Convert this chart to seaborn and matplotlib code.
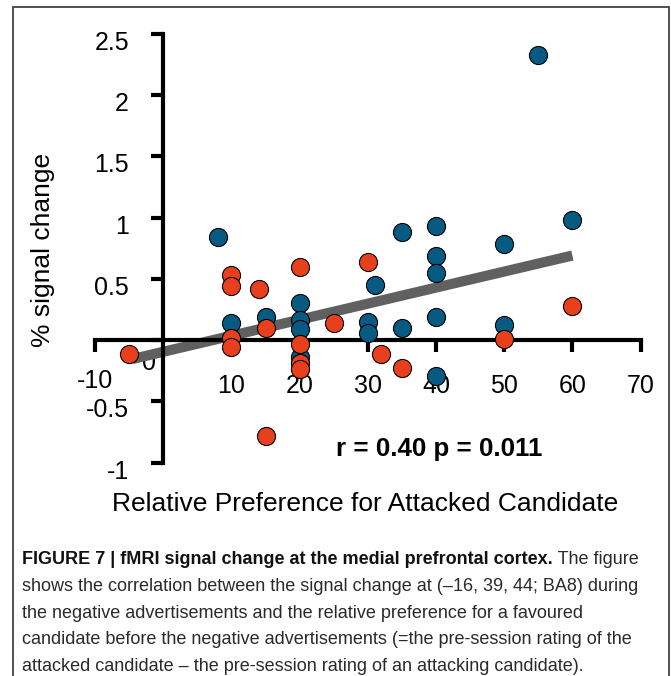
import matplotlib
matplotlib.use("Agg")
import matplotlib.pyplot as plt
import matplotlib.transforms as mtransforms
from matplotlib.patches import Rectangle
import seaborn as sns

# blue group
blue_x = [8, 10, 15, 20, 20, 20, 20, 30, 30, 31, 35, 35, 40, 40, 40, 40, 40, 50, 50, 55, 60]
blue_y = [0.84, 0.14, 0.19, 0.30, 0.16, 0.09, -0.14, 0.15, 0.06, 0.45, 0.885, 0.10,
          0.93, 0.69, 0.55, 0.19, -0.29, 0.78, 0.12, 2.33, 0.98]

# red group
red_x = [-5, 10, 10, 14, 20, 30, 60, 25, 15, 10, 10, 20, 20, 20, 32, 35, 50, 15]
red_y = [-0.115, 0.53, 0.44, 0.42, 0.60, 0.64, 0.28, 0.14, 0.10, 0.02, -0.06, -0.03,
         -0.19, -0.24, -0.115, -0.225, 0.01, -0.78]

# regression line end points
fit_x = [-4.5, 60]
fit_y = [-0.155, 0.69]

x_ticks = [-10, 10, 20, 30, 40, 50, 60, 70]
x_tick_labels = ["-10", "10", "20", "30", "40", "50", "60", "70"]
y_ticks = [-1, -0.5, 0, 0.5, 1, 1.5, 2, 2.5]
y_tick_labels = ["-1", "-0.5", "0", "0.5", "1", "1.5", "2", "2.5"]

stat_text = "r = 0.40 p = 0.011"
caption_bold = "FIGURE 7 | fMRI signal change at the medial prefrontal cortex."
caption_first_rest = " The figure"
caption_lines = [
    "shows the correlation between the signal change at (\u201316, 39, 44; BA8) during",
    "the negative advertisements and the relative preference for a favoured",
    "candidate before the negative advertisements (=the pre-session rating of the",
    "attacked candidate \u2013 the pre-session rating of an attacking candidate).",
]

sns.set_style("white")
plt.rcParams["font.family"] = ["Liberation Sans", "DejaVu Sans"]
plt.rcParams["text.color"] = "black"
plt.rcParams["axes.labelcolor"] = "black"
plt.rcParams["xtick.color"] = "black"
plt.rcParams["ytick.color"] = "black"

W, H = 671, 676
fig = plt.figure(figsize=(W / 100, H / 100), dpi=100)
ax = fig.add_axes([0.1416, 0.3158, 0.8131, 0.6342])
ax.set_facecolor("none")

blue = "#075a82"
red = "#e8401c"

sns.lineplot(x=fit_x, y=fit_y, color="#606060", linewidth=7.3, ax=ax, zorder=1.5,
             solid_capstyle="butt")
sns.scatterplot(x=blue_x, y=blue_y, color=blue, s=170, edgecolor="black",
                linewidth=0.8, zorder=3, clip_on=False, ax=ax)
sns.scatterplot(x=red_x, y=red_y, color=red, s=170, edgecolor="black",
                linewidth=0.8, zorder=3, clip_on=False, ax=ax)

ax.set_xlim(-10, 70)
ax.set_ylim(-1, 2.5)
for side in ["top", "right"]:
    ax.spines[side].set_visible(False)
ax.spines["left"].set_position(("data", 0))
ax.spines["bottom"].set_position(("data", 0))
for side in ["left", "bottom"]:
    ax.spines[side].set_linewidth(3)
    ax.spines[side].set_color("black")

ax.set_xticks(x_ticks)
ax.set_xticklabels(x_tick_labels)
ax.set_yticks(y_ticks)
ax.set_yticklabels(y_tick_labels)
ax.tick_params(axis="both", direction="out", length=8.6, width=3, color="black",
               labelcolor="black", labelsize=18, pad=16, bottom=True, left=True)

# nudge tick labels to where the original has them
for lab in ax.get_yticklabels():
    if lab.get_text() == "0":
        off = mtransforms.ScaledTranslation(0.27, -0.20, fig.dpi_scale_trans)
    else:
        off = mtransforms.ScaledTranslation(0, -0.065, fig.dpi_scale_trans)
    lab.set_transform(lab.get_transform() + off)
for lab in ax.get_xticklabels():
    if lab.get_text() == "-10":
        off = mtransforms.ScaledTranslation(0, 0.05, fig.dpi_scale_trans)
        lab.set_transform(lab.get_transform() + off)

ax.set_ylabel("% signal change", fontsize=19)
ax.set_xlabel("Relative Preference for Attacked Candidate", fontsize=19)
ax.yaxis.set_label_coords(-0.095, 0.497)
ax.xaxis.set_label_coords(0.495, -0.097)
ax.yaxis.label.set_va("center")
ax.xaxis.label.set_va("center")

ax.text(40.4, -0.89, stat_text, ha="center", va="center", fontsize=18.6,
        fontweight="bold")

# frame round the figure
fig.add_artist(Rectangle((13 / W, -0.05), (669 - 13) / W, 1.05 - 7 / H,
                         transform=fig.transFigure, fill=False, lw=1.2,
                         ec="#333333"))

# caption
cap_x = 22 / W
baselines = [564, 591, 618, 644, 671]
cap_size = 13
t1 = fig.text(cap_x, 1 - baselines[0] / H, caption_bold, fontsize=cap_size,
              fontweight="bold", va="baseline", color="#111111")
fig.canvas.draw()
bb = t1.get_window_extent(fig.canvas.get_renderer())
fig.text(bb.x1 / W, 1 - baselines[0] / H, caption_first_rest, fontsize=cap_size,
         va="baseline", color="#2a2a2a")
for line, b in zip(caption_lines, baselines[1:]):
    fig.text(cap_x, 1 - b / H, line, fontsize=cap_size, va="baseline",
             color="#2a2a2a")

fig.savefig("out.png", dpi=100)
